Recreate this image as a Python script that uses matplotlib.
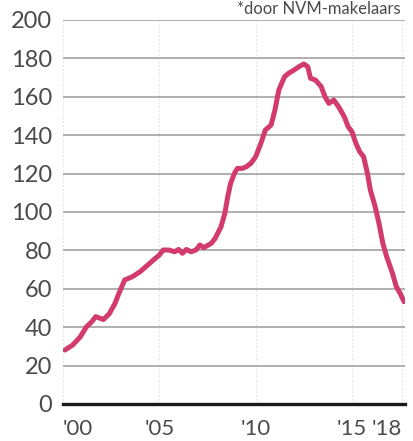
import matplotlib
matplotlib.use("Agg")
import matplotlib.pyplot as plt

# Average number of days a home is on the market (NVM), 2000 - early 2018
years = [2000.1, 2000.5, 2000.9, 2001.2, 2001.5, 2001.7, 2002.1, 2002.4, 2002.7,
         2002.9, 2003.2, 2003.6, 2004.0, 2004.4, 2004.8, 2005.0, 2005.2, 2005.5,
         2005.8, 2006.0, 2006.2, 2006.4, 2006.65, 2006.9, 2007.1, 2007.3, 2007.7,
         2007.9, 2008.2, 2008.4, 2008.55, 2008.7, 2008.9, 2009.05, 2009.3, 2009.5,
         2009.75, 2010.0, 2010.27, 2010.5, 2010.8, 2011.0, 2011.2, 2011.5, 2011.7,
         2012.0, 2012.25, 2012.5, 2012.7, 2012.85, 2013.1, 2013.4, 2013.6, 2013.8,
         2014.05, 2014.3, 2014.6, 2014.8, 2015.0, 2015.2, 2015.4, 2015.6, 2015.8,
         2015.95, 2016.2, 2016.4, 2016.6, 2016.8, 2017.1, 2017.3, 2017.5, 2017.7]
days = [28.1, 30.7, 35.0, 40.0, 42.9, 45.5, 44.0, 47.0, 52.4,
        57.6, 64.6, 66.3, 68.9, 72.4, 75.9, 77.6, 80.2, 80.2,
        79.3, 80.5, 78.5, 80.5, 79.3, 80.2, 82.8, 81.4, 83.7,
        86.3, 92.3, 99.3, 108.0, 115.0, 120.2, 122.7, 122.7, 123.5,
        125.3, 128.8, 135.8, 142.7, 145.3, 153.1, 163.5, 170.5, 172.2,
        174.0, 175.7, 177.1, 175.7, 169.6, 168.75, 165.3, 160.0, 156.6,
        158.3, 154.9, 149.6, 144.4, 141.8, 135.8, 131.4, 128.8, 120.2,
        111.5, 102.8, 94.1, 83.7, 76.7, 68.1, 61.1, 57.6, 53.3]

y_ticks = [0, 20, 40, 60, 80, 100, 120, 140, 160, 180, 200]
x_tick_pos = [2000, 2005, 2010, 2015, 2017.6]
x_tick_labels = ["'00", "'05", "'10", "'15", "'18"]
note = "*door NVM-makelaars"

LINE = "#d33a6e"
TEXT = "#4a4a4a"
FONT = "Lato"

fig = plt.figure(figsize=(4.13, 4.41), dpi=100)
ax = fig.add_axes([63 / 413, 1 - 404 / 441, (405 - 63) / 413, (404 - 20) / 441])

ax.set_xlim(2000, 2017.75)
ax.set_ylim(0, 200)

# light vertical guides
for xv in [2000, 2005, 2010, 2015, 2017.6]:
    ax.axvline(xv, color="#e4e4e4", lw=0.9, ls=(0, (1.5, 1.5)), zorder=1)

# horizontal grid
for yv in y_ticks[1:]:
    ax.axhline(yv, color="#9a9a9a", lw=1.1, zorder=1)
ax.axhline(0, color="#1a1a1a", lw=2.4, zorder=3, clip_on=False)

ax.plot(years, days, color=LINE, lw=3.6, solid_joinstyle="round",
        solid_capstyle="round", zorder=4)

for s in ax.spines.values():
    s.set_visible(False)

ax.set_yticks(y_ticks)
ax.set_yticklabels([str(v) for v in y_ticks], fontsize=17, color=TEXT,
                   fontfamily=FONT)
ax.set_xticks(x_tick_pos)
ax.set_xticklabels(x_tick_labels, fontsize=16, color=TEXT, fontfamily=FONT)
ax.tick_params(axis="y", length=0, pad=8)
ax.tick_params(axis="x", length=0, pad=11)
labels = ax.get_xticklabels()
labels[0].set_ha("left")
labels[-1].set_ha("right")

fig.text(401 / 413, 1 - 9 / 441, note, ha="right", va="center", fontsize=12,
         color=TEXT, fontfamily=FONT)

fig.savefig("out.png", dpi=100)
